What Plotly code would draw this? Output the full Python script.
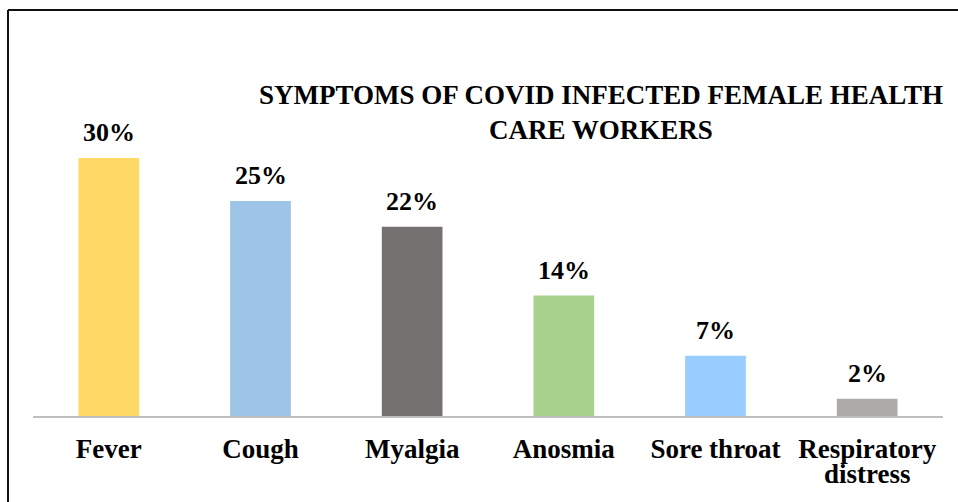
import plotly.graph_objects as go

categories = ["Fever", "Cough", "Myalgia", "Anosmia", "Sore throat", "Respiratory distress"]
tick_lines_1 = ["Fever", "Cough", "Myalgia", "Anosmia", "Sore throat", "Respiratory"]
tick_lines_2 = ["", "", "", "", "", "distress"]
values = [30, 25, 22, 14, 7, 2]
value_labels = ["30%", "25%", "22%", "14%", "7%", "2%"]
colors = ["#FFD966", "#9DC3E6", "#767171", "#A9D18E", "#99CCFF", "#AEAAAA"]
title_text = "<b>SYMPTOMS OF COVID INFECTED FEMALE HEALTH<br>CARE WORKERS</b>"

FONT = "Liberation Serif, Times New Roman, serif"
W, H = 958, 502
ML, MR, MT, MB = 33, 15, 115, 86
PW, PH = W - ML - MR, H - MT - MB

fig = go.Figure()
fig.add_trace(go.Bar(
    x=categories, y=values, marker=dict(color=colors, line=dict(width=0)),
    width=0.4, hoverinfo="skip",
))

for cat, val, lab in zip(categories, values, value_labels):
    fig.add_annotation(x=cat, y=val, text=f"<b>{lab}</b>", showarrow=False,
                       xanchor="center", yanchor="bottom", yshift=9,
                       font=dict(family=FONT, size=26, color="black"))


def px_x(px):
    return (px - ML) / PW


def px_y(py):
    return (H - MB - py) / PH


for cat, line2 in zip(categories, tick_lines_2):
    if line2:
        fig.add_annotation(x=cat, xref="x", yref="paper", y=px_y(474),
                           text=f"<b>{line2}</b>", showarrow=False,
                           xanchor="center", yanchor="middle",
                           font=dict(family=FONT, size=27, color="black"))

fig.add_shape(type="line", xref="paper", yref="paper", x0=px_x(8), x1=px_x(960),
              y0=px_y(10), y1=px_y(10), line=dict(color="#111111", width=2))
fig.add_shape(type="line", xref="paper", yref="paper", x0=px_x(8), x1=px_x(8),
              y0=px_y(10), y1=px_y(504), line=dict(color="#111111", width=2))

fig.update_layout(
    width=W, height=H, margin=dict(l=ML, r=MR, t=MT, b=MB),
    paper_bgcolor="white", plot_bgcolor="white",
    showlegend=False,
    title=dict(text=title_text, xref="container", yref="container",
               x=601 / W, xanchor="center", y=1 - 104 / H, yanchor="middle",
               font=dict(family=FONT, size=27, color="black")),
    xaxis=dict(tickmode="array", tickvals=categories,
               ticktext=[f"<b>{t}</b>" for t in tick_lines_1],
               tickfont=dict(family=FONT, size=27, color="black"),
               ticklabelstandoff=8,
               showline=True, linecolor="#BFBFBF", linewidth=2, ticks="",
               showgrid=False, fixedrange=True),
    yaxis=dict(range=[0, 35], visible=False, showgrid=False, zeroline=False),
    bargap=0.6,
)

fig.write_html("out.html")
